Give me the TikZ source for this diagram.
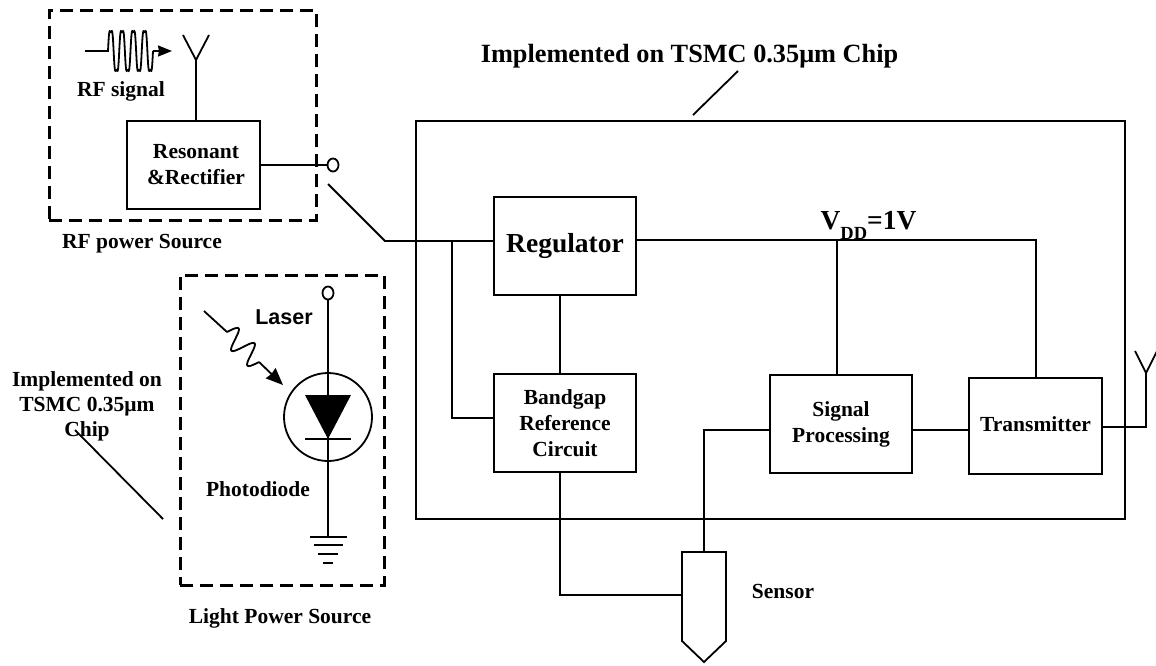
\documentclass[tikz,border=0pt]{standalone}
\usepackage{fontspec}
\setmainfont{Liberation Serif}
\newfontfamily\lasersf{Liberation Sans}
\usetikzlibrary{arrows.meta,shapes.geometric}
\tikzset{
	wire/.style={line width=1.8pt},
	block/.style={draw, line width=2pt, inner sep=0pt, outer sep=0pt, anchor=north west, font=\fontsize{21.5}{26}\selectfont\bfseries, align=center},
	dashbox/.style={draw, line width=3pt, dash pattern=on 13pt off 7pt, inner sep=0pt, outer sep=0pt, anchor=north west},
	lbl/.style={inner sep=0pt, font=\fontsize{21.5}{25}\selectfont\bfseries, align=center},
	pin/.style={draw, line width=1.8pt, ellipse, minimum width=11pt, minimum height=13pt, inner sep=0pt},
	tip/.style={-{Stealth[length=14pt,width=11pt,inset=1pt]}},
	bigtip/.style={-{Stealth[length=17pt,width=14pt,inset=1pt]}}
}
\begin{document}
\begin{tikzpicture}[x=1pt, y=-1pt]
\useasboundingbox (0,0) rectangle (1156,665);

%power sources
\node[dashbox, minimum width=267pt, minimum height=210pt] (rfbox) at (49,10) {};
\node[dashbox, minimum width=204pt, minimum height=310pt] (lightbox) at (180,275) {};
\node[lbl] (rflabel) at (142,244) {RF power Source};
\node[lbl] (lightlabel) at (280,618) {Light Power Source};

%rf part
\node[block, minimum width=133pt, minimum height=88pt] (reson) at (127,121) {\hspace*{5pt}Resonant\\\hspace*{5pt}\&Rectifier};
\node[lbl] (rfsig) at (121,91) {RF signal};
\coordinate (rfant) at (196,60);
\draw[wire] (reson.north -| rfant) -- (rfant);
\draw[wire] (183,35) -- (rfant) -- (209,35);
\draw[wire] (85,51) -- (108,51) -- plot[domain=0:1, samples=160, smooth] ({108+45*\x}, {51-23*(sin(4*360*\x)+0.18*sin(12*360*\x))}) -- (153,51);
\draw[wire, tip] (153,51) -- (172,51);
\node[pin] (rfpin) at (333,165) {};
\draw[wire] (reson.east) -- (rfpin.west);

%switch
\coordinate (swtop) at (328,184);
\coordinate (swbot) at (385,241);
\coordinate (split) at (452,241);

%light part
\node[pin] (lightpin) at (328,293) {};
\node[draw, circle, line width=1.8pt, minimum size=88pt, inner sep=0pt] (pd) at (328,417) {};
\coordinate (gnd) at (328,537);
\draw[wire] (lightpin.south) -- (gnd);
\fill (305,395) -- (351,395) -- (328,439) -- cycle;
\draw[wire] (305,439) -- (351,439);
\draw[wire] (310,537) -- (347,537);
\draw[wire] (314,545) -- (343,545);
\draw[wire] (318,554) -- (338,554);
\draw[wire] (323,563) -- (333,563);
\node[lbl, font=\fontsize{21.5}{25}\selectfont\bfseries\lasersf] (laser) at (284,317) {Laser};
\node[lbl] (pdlabel) at (258,489) {Photodiode};
\coordinate (lsr0) at (204,311);
\coordinate (lsr1) at (227,332);
\coordinate (lsr2) at (259,362);
\coordinate (lsr3) at (283,385);
\draw[wire] (lsr0) -- (lsr1);
\draw[wire] plot[domain=0:1, samples=60, smooth] ({227+32*\x+7.5*sin(720*\x)}, {332+30*\x-7.5*sin(720*\x)});
\draw[wire, bigtip] (lsr2) -- (lsr3);

%side note
\node[lbl] (sidenote) at (87,406) {Implemented on\\TSMC 0.35μm\\Chip};
\draw[wire] (75,430) -- (163,519);

%chip
\node[block, minimum width=709pt, minimum height=398pt] (chip) at (416,121) {};
\node[lbl, font=\fontsize{26.3}{25}\selectfont\bfseries] (title) at (689.5,56) {Implemented on TSMC 0.35μm Chip};
\draw[wire] (693,115) -- (738,71);

\node[block, minimum width=142pt, minimum height=98pt, font=\fontsize{27.5}{26}\selectfont\bfseries, fill=white] (reg) at (494,197) {Regulator};
\node[block, minimum width=142pt, minimum height=98pt, fill=white] (band) at (494,374) {Bandgap\\Reference\\Circuit};
\node[block, minimum width=142pt, minimum height=98pt, fill=white] (sigp) at (770,375) {Signal\\Processing};
\node[block, minimum width=133pt, minimum height=96pt, fill=white] (trans) at (969,378) {\raisebox{3pt}{Transmitter}};
\node[lbl, font=\fontsize{27.5}{25}\selectfont\bfseries] (vdd) at (868.5,225) {V\raisebox{-10pt}{\fontsize{18.5}{18}\selectfont DD}=1V};

%sensor
\node[lbl] (senslabel) at (783,591) {Sensor};
\draw[wire] (682,552) coordinate (sensl) -- (726,552) -- (726,641) -- (704,662) -- (682,641) -- cycle;
\coordinate (senst) at (704,552);

%connections
\draw[wire] (swtop) -- (swbot) -- (reg.west |- swbot);
\draw[wire] (split) -- (452,418) -- (band.west |- 0,418);
\draw[wire] (reg.east |- 0,240) -- (1036,240) -- (trans.north -| 1036,0);
\draw[wire] (837,240) -- (sigp.north -| 837,0);
\draw[wire] (560,295) -- (560,374);
\draw[wire] (560,472) -- (560,595) -- (sensl |- 0,595);
\draw[wire] (senst) -- (704,430) -- (sigp.west |- 0,430);
\draw[line width=2.6pt] (sigp.east |- 0,430) -- (trans.west |- 0,430);
\draw[wire] (trans.east |- 0,427) -- (1146,427) -- (1146,373);
\draw[wire] (1135,351) -- (1146,373) -- (1157,351);

\end{tikzpicture}
\end{document}
